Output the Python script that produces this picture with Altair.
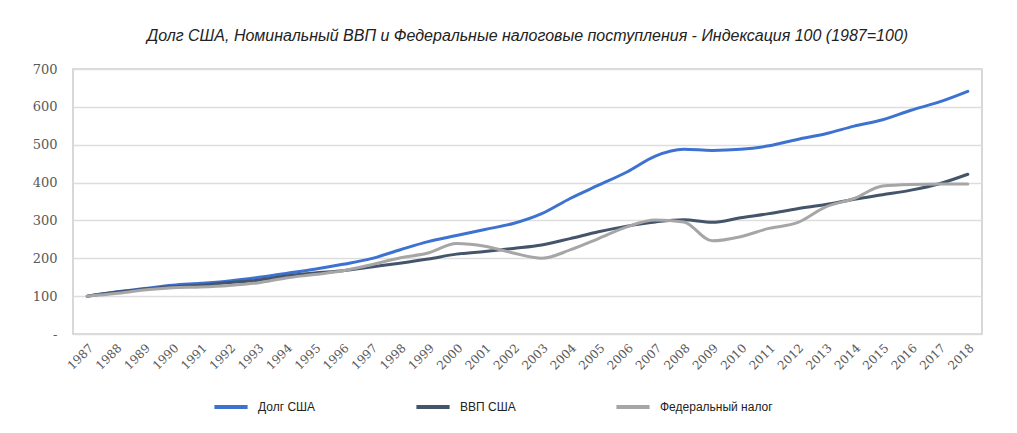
import altair as alt
import pandas as pd

years = list(range(1987, 2019))
debt = [100, 111, 120, 129, 134, 140, 149, 160, 171, 184, 199, 222, 244, 260, 276,
        292, 318, 358, 393, 428, 470, 488, 485, 488, 497, 514, 529, 549, 566, 591, 613, 641]
gdp = [100, 110, 118, 125, 129, 136, 142, 153, 161, 167, 177, 187, 198, 211, 218,
       226, 235, 252, 270, 285, 296, 302, 295, 307, 318, 331, 342, 356, 368, 380, 397, 422]
tax = [100, 107, 116, 122, 124, 128, 135, 148, 157, 167, 183, 201, 214, 239, 232,
       214, 200, 222, 252, 283, 301, 296, 246, 257, 279, 294, 336, 358, 391, 395, 396, 396]

series_names = ["Долг США", "ВВП США", "Федеральный налог"]
series_colors = ["#3D72D1", "#44546A", "#A6A6A6"]

rows = []
for name, vals in zip(series_names, [debt, gdp, tax]):
    for y, v in zip(years, vals):
        rows.append({"Год": str(y), "Значение": v, "Ряд": name})
df = pd.DataFrame(rows)

title_text = "Долг США, Номинальный ВВП и Федеральные налоговые поступления - Индексация 100 (1987=100)"

chart = alt.Chart(df).mark_line(
    strokeWidth=3, interpolate="monotone", strokeCap="round"
).encode(
    x=alt.X("Год:O", title=None, sort=None,
            axis=alt.Axis(labelAngle=315, labelFont="DejaVu Serif", labelFontSize=12,
                          labelColor="#595959", ticks=False, domain=False,
                          labelPadding=8, grid=False)),
    y=alt.Y("Значение:Q", title=None,
            scale=alt.Scale(domain=[0, 700], nice=False),
            axis=alt.Axis(values=[0, 100, 200, 300, 400, 500, 600, 700],
                          labelExpr="datum.value == 0 ? '-' : datum.label",
                          labelFont="DejaVu Serif", labelFontSize=13,
                          labelColor="#595959", ticks=False, domain=False,
                          labelPadding=16, gridColor="#DDDDDD", gridWidth=1.5)),
    color=alt.Color("Ряд:N",
                    scale=alt.Scale(domain=series_names, range=series_colors),
                    legend=alt.Legend(title=None, orient="none", direction="horizontal",
                                      legendX=139, legendY=319,
                                      symbolType="stroke", symbolSize=1100,
                                      symbolStrokeWidth=4, labelFont="Liberation Sans",
                                      labelFontSize=12, labelColor="#222222",
                                      labelOffset=8, columnPadding=92)),
    order=alt.Order("Ряд:N", sort="ascending"),
).properties(
    width=909,
    height=265,
    padding={"left": 65, "top": 61, "right": 27, "bottom": 90},
    autosize=alt.AutoSizeParams(type="none"),
    title=alt.TitleParams(title_text, font="Liberation Sans", fontSize=16,
                          fontStyle="italic", fontWeight="normal", color="#222222",
                          anchor="middle", offset=19),
).configure_view(
    stroke="#CCCCCC", strokeWidth=1.5
)

chart.save("out.html", embed_options={"renderer": "svg", "actions": False})
